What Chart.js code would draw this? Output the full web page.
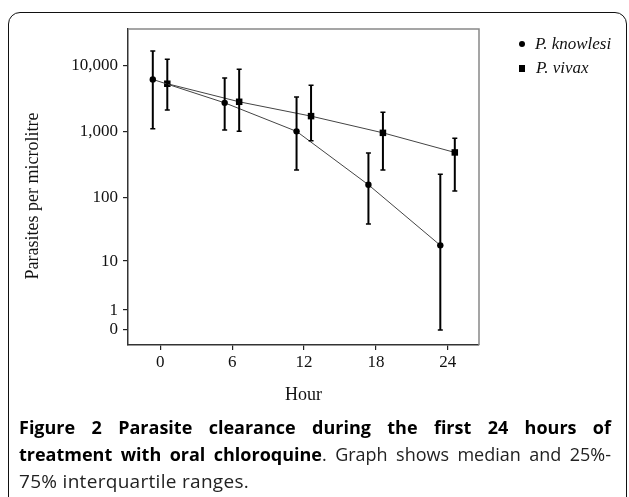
<!DOCTYPE html>
<html><head><meta charset="utf-8">
<script src="https://cdn.jsdelivr.net/npm/chart.js@4/dist/chart.umd.min.js"></script>
<style>
html,body{margin:0;padding:0;background:#fff;width:629px;height:497px;overflow:hidden;}
#frame{position:absolute;left:8px;top:12px;width:619px;height:520px;border:1.5px solid #111;border-radius:12px;box-sizing:border-box;}
#c{position:absolute;left:0;top:0;}
.leg{position:absolute;font-family:"Liberation Serif";font-style:italic;font-size:17px;color:#111;white-space:nowrap;line-height:20px;}
.sym{position:absolute;background:#000;}
.cap{position:absolute;left:19px;width:592px;font-family:"Open Sans";font-size:18px;color:#222;line-height:27px;white-space:nowrap;}
.j{text-align:justify;text-align-last:justify;white-space:normal;}
.cap b{color:#000;}
</style></head>
<body>
<div id="frame"></div>
<canvas id="c" width="629" height="497"></canvas>
<span class="sym" style="left:519px;top:41px;width:6px;height:6px;border-radius:50%;"></span>
<div class="leg" style="left:535px;top:34px;">P. knowlesi</div>
<span class="sym" style="left:519px;top:65px;width:6px;height:7px;"></span>
<div class="leg" style="left:536px;top:58px;">P. vivax</div>
<div class="cap j" style="top:414px;"><b>Figure 2 Parasite clearance during the first 24 hours of</b></div>
<div class="cap j" style="top:441px;"><b>treatment with oral chloroquine</b>. Graph shows median and 25%-</div>
<div class="cap" style="top:468px;font-size:19px;letter-spacing:0.3px;">75% interquartile ranges.</div>
<script>
const hours = [0, 6, 12, 18, 24];
const hourLabels = ['0', '6', '12', '18', '24'];
const knowlesiMedian = [6100, 2700, 1000, 155, 18];
const knowlesiQ1 = [1100, 1050, 260, 39, 0];
const knowlesiQ3 = [16400, 6400, 3300, 470, 225];
const vivaxMedian = [5250, 2800, 1700, 950, 480];
const vivaxQ1 = [2100, 1000, 720, 260, 125];
const vivaxQ3 = [12300, 8700, 5000, 1950, 790];
const yTickValues = [0, 1, 10, 100, 1000, 10000];
const yTickLabels = ['0', '1', '10', '100', '1,000', '10,000'];

const tf = v => Math.log10(v + 1);
const DODGE_K = -0.63, DODGE_V = 0.58;

const errorBars = {
  id: 'errorBars',
  afterDatasetsDraw(chart) {
    const {ctx, scales: {x, y}} = chart;
    const sets = [[knowlesiQ1, knowlesiQ3, DODGE_K], [vivaxQ1, vivaxQ3, DODGE_V]];
    ctx.save();
    ctx.strokeStyle = '#000';
    sets.forEach(([lo, hi, d]) => {
      hours.forEach((h, i) => {
        const px = x.getPixelForValue(h + d);
        const p1 = y.getPixelForValue(tf(lo[i]));
        const p2 = y.getPixelForValue(tf(hi[i]));
        ctx.lineWidth = 2;
        ctx.beginPath(); ctx.moveTo(px, p1); ctx.lineTo(px, p2); ctx.stroke();
        ctx.lineWidth = 1.5;
        ctx.beginPath();
        ctx.moveTo(px - 2.5, p1); ctx.lineTo(px + 2.5, p1);
        ctx.moveTo(px - 2.5, p2); ctx.lineTo(px + 2.5, p2);
        ctx.stroke();
      });
    });
    ctx.restore();
  }
};
const boxLines = {
  id: 'boxLines',
  afterDraw(chart) {
    const {ctx, chartArea: a} = chart;
    ctx.save();
    ctx.strokeStyle = '#888';
    ctx.lineWidth = 1.5;
    ctx.beginPath();
    ctx.moveTo(a.left, a.top); ctx.lineTo(a.right, a.top); ctx.lineTo(a.right, a.bottom);
    ctx.stroke();
    ctx.restore();
  }
};

const tickFont = {family: 'Liberation Serif', size: 17};
const titleFont = {family: 'Liberation Serif', size: 18};
new Chart(document.getElementById('c'), {
  type: 'scatter',
  data: {
    datasets: [
      {
        label: 'P. knowlesi',
        data: hours.map((h, i) => ({x: h + DODGE_K, y: tf(knowlesiMedian[i])})),
        showLine: true, borderColor: '#444', borderWidth: 1,
        pointStyle: 'circle', pointRadius: 3.2, pointBackgroundColor: '#000', pointBorderWidth: 0
      },
      {
        label: 'P. vivax',
        data: hours.map((h, i) => ({x: h + DODGE_V, y: tf(vivaxMedian[i])})),
        showLine: true, borderColor: '#444', borderWidth: 1,
        pointStyle: 'rect', pointRadius: 4.6, pointBackgroundColor: '#000', pointBorderWidth: 0
      }
    ]
  },
  options: {
    responsive: false, animation: false, devicePixelRatio: 1,
    layout: {padding: {left: 0, top: 29, right: 150, bottom: 91}},
    plugins: {legend: {display: false}, tooltip: {enabled: false}},
    scales: {
      x: {
        type: 'linear', min: -2.7, max: 26.6,
        afterBuildTicks: s => { s.ticks = hours.map(v => ({value: v})); },
        afterFit: s => { s.height = 61; },
        ticks: {callback: (v, i) => hourLabels[i], font: tickFont, color: '#111', padding: 2, maxRotation: 0, autoSkip: false},
        grid: {drawOnChartArea: false, drawTicks: true, tickLength: 5, color: '#222', lineWidth: 1.2},
        border: {color: '#333', width: 1.5},
        title: {display: true, text: 'Hour', font: titleFont, color: '#111', padding: 0}
      },
      y: {
        type: 'linear', min: -0.227, max: 4.547,
        afterBuildTicks: s => { s.ticks = yTickValues.map(v => ({value: tf(v)})); },
        afterFit: s => { s.width = 128; },
        ticks: {callback: (v, i) => yTickLabels[i], font: tickFont, color: '#111', padding: 5, autoSkip: false},
        grid: {drawOnChartArea: false, drawTicks: true, tickLength: 5, color: '#222', lineWidth: 1.2},
        border: {color: '#333', width: 1.5},
        title: {display: true, text: 'Parasites per microlitre    ', font: titleFont, color: '#111', padding: {top: 22.2, bottom: 0}}
      }
    }
  },
  plugins: [errorBars, boxLines]
});
</script>
</body></html>
